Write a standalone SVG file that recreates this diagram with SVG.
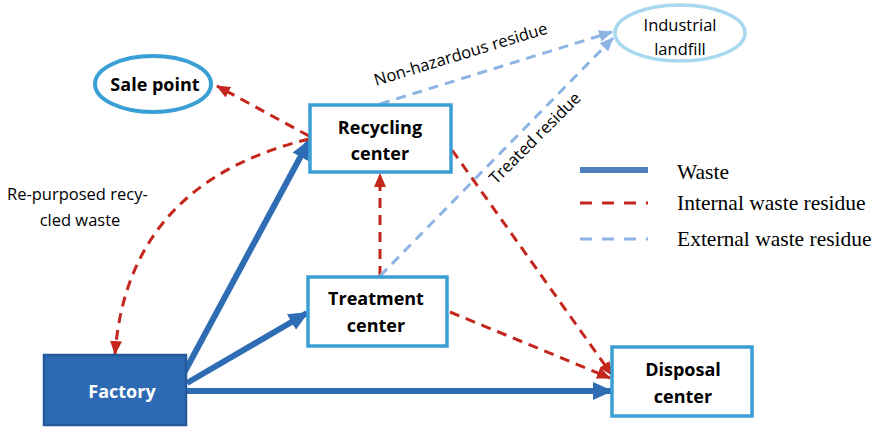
<svg xmlns="http://www.w3.org/2000/svg" width="880" height="427" viewBox="0 0 880 427">
<defs>
<marker id="ab" markerUnits="userSpaceOnUse" markerWidth="20" markerHeight="18" refX="18" refY="9" orient="auto"><path d="M0,0 L20,9 L0,18 Z" fill="#2e6db4"/></marker>
<marker id="ar" markerUnits="userSpaceOnUse" markerWidth="14" markerHeight="12" refX="13" refY="6" orient="auto"><path d="M0,0 L14,6 L0,12 Z" fill="#c4261d"/></marker>
<marker id="al" markerUnits="userSpaceOnUse" markerWidth="14" markerHeight="12" refX="13" refY="6" orient="auto"><path d="M0,0 L14,6 L0,12 Z" fill="#8db4e2"/></marker>
</defs>
<style>
.box{fill:#fff;stroke:#3a9fd5;stroke-width:3.5}
.nl{font-family:"Open Sans","Liberation Sans",sans-serif;font-weight:bold;font-size:18px;fill:#000;text-anchor:middle}
.lbl{font-family:"Open Sans","Liberation Sans",sans-serif;font-size:16.5px;fill:#000}
.leg{font-family:"Liberation Serif","Times New Roman",serif;font-size:21.5px;fill:#000}
.w{stroke:#2e6db4;stroke-width:6;fill:none}
.r{stroke:#c4261d;stroke-width:3;stroke-dasharray:10 7;fill:none}
.l{stroke:#8db4e2;stroke-width:3;stroke-dasharray:10 7;fill:none}
</style>
<g id="connectors">
<line class="w" x1="184" y1="373" x2="309" y2="141" marker-end="url(#ab)"/>
<line class="w" x1="187" y1="383" x2="307" y2="313" marker-end="url(#ab)"/>
<line class="w" x1="187" y1="391" x2="611" y2="391" marker-end="url(#ab)"/>
<line class="r" x1="309" y1="136" x2="217" y2="86" marker-end="url(#ar)"/>
<path class="r" d="M309,139 Q128,183 115,354" marker-end="url(#ar)"/>
<line class="r" x1="380" y1="276" x2="380" y2="174" marker-end="url(#ar)"/>
<line class="r" x1="452" y1="150" x2="612" y2="375" marker-end="url(#ar)"/>
<line class="r" x1="450" y1="312" x2="610" y2="378" marker-end="url(#ar)"/>
<line class="l" x1="380" y1="104" x2="612" y2="32" marker-end="url(#al)"/>
<line class="l" x1="380" y1="276" x2="613" y2="38" marker-end="url(#al)"/>
</g>
<g id="sale-point">
<ellipse cx="153" cy="84" rx="58" ry="28" fill="#fff" stroke="#3a9fd5" stroke-width="4"/>
<text class="nl" x="155" y="91">Sale point</text>
</g>
<g id="industrial-landfill">
<ellipse cx="680" cy="33" rx="65" ry="28" fill="#fff" stroke="#a9d9f0" stroke-width="3.5"/>
<text class="lbl" x="680" y="31" text-anchor="middle">Industrial</text>
<text class="lbl" x="680" y="55" text-anchor="middle">landfill</text>
</g>
<g id="recycling-center">
<rect class="box" x="310" y="105" width="141" height="67"/>
<text class="nl" x="380" y="134">Recycling</text>
<text class="nl" x="380" y="160">center</text>
</g>
<g id="treatment-center">
<rect class="box" x="308" y="277" width="139" height="69"/>
<text class="nl" x="376" y="305">Treatment</text>
<text class="nl" x="376" y="332">center</text>
</g>
<g id="factory">
<rect x="44" y="355" width="142" height="70" fill="#2e6ab3" stroke="#245a9c" stroke-width="2.5"/>
<text class="nl" x="122" y="398" style="fill:#fff">Factory</text>
</g>
<g id="disposal-center">
<rect class="box" x="612" y="347" width="140" height="69"/>
<text class="nl" x="683" y="376">Disposal</text>
<text class="nl" x="683" y="403">center</text>
</g>
<g id="labels">
<text class="lbl" transform="translate(376,86) rotate(-17)">Non-hazardous residue</text>
<text class="lbl" transform="translate(496,185) rotate(-45)">Treated residue</text>
<text class="lbl" x="7" y="200">Re-purposed recy-</text>
<text class="lbl" x="80" y="226" text-anchor="middle">cled waste</text>
</g>
<g id="legend">
<line x1="580" y1="170" x2="648" y2="170" stroke="#4f81bd" stroke-width="6"/>
<text class="leg" x="677" y="179">Waste</text>
<line x1="580" y1="203" x2="648" y2="203" stroke="#c4261d" stroke-width="3" stroke-dasharray="12 10"/>
<text class="leg" x="677" y="210">Internal waste residue</text>
<line x1="580" y1="239" x2="648" y2="239" stroke="#8db4e2" stroke-width="3" stroke-dasharray="12 10"/>
<text class="leg" x="677" y="246">External waste residue</text>
</g>
</svg>
